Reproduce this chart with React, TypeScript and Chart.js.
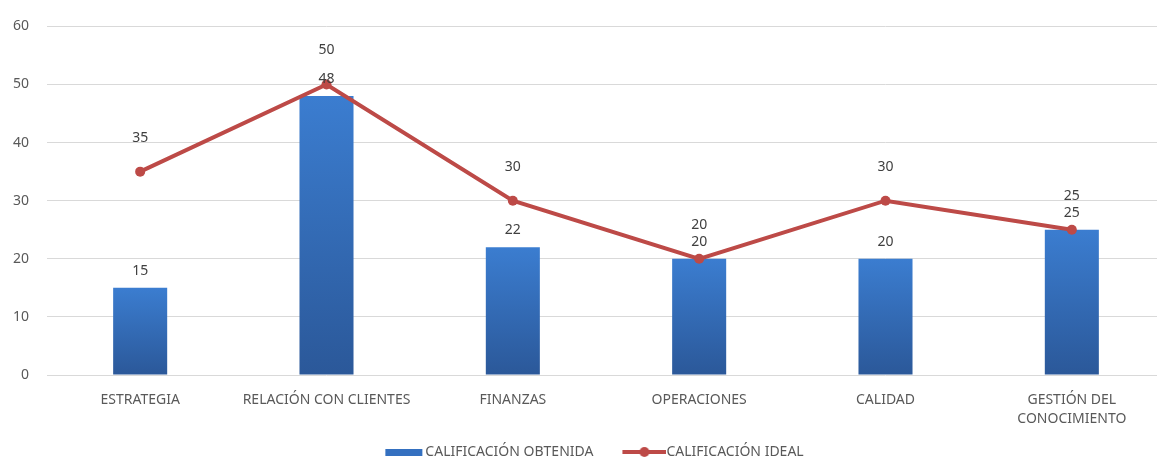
import React, { useEffect, useRef } from "react";
import { Chart, registerables } from "chart.js";

Chart.register(...registerables);

const categories: (string | string[])[] = [
  "ESTRATEGIA",
  "RELACIÓN CON CLIENTES",
  "FINANZAS",
  "OPERACIONES",
  "CALIDAD",
  ["GESTIÓN DEL", "CONOCIMIENTO"],
];
const obtenida = [15, 48, 22, 20, 20, 25];
const ideal = [35, 50, 30, 20, 30, 25];
const yTicks = [0, 10, 20, 30, 40, 50, 60];

const FONT = "'Noto Sans', sans-serif";
const TEXT = "#595959";
const RED = "#bd4a47";
const BLUE_TOP = "#3b7dd0";
const BLUE_BOT = "#2b5899";
const SWATCH_W = 52;

// swatch images: visible part sits at the right of the canvas so it ends at the text
function makeBarSwatch(): HTMLCanvasElement {
  const m = SWATCH_W / 2 - 12.5;
  const c = document.createElement("canvas");
  c.width = Math.round(37 + 2 * m);
  c.height = 7;
  const g = c.getContext("2d")!;
  g.fillStyle = "#3470c0";
  g.fillRect(c.width - 39, 0, 37, 7);
  return c;
}

function makeLineSwatch(): HTMLCanvasElement {
  const m = SWATCH_W / 2 - 15;
  const c = document.createElement("canvas");
  c.width = Math.round(44 + 2 * m);
  c.height = 10;
  const g = c.getContext("2d")!;
  const x0 = c.width - 44;
  g.strokeStyle = RED;
  g.lineWidth = 4;
  g.beginPath();
  g.moveTo(x0, 5);
  g.lineTo(x0 + 44, 5);
  g.stroke();
  g.fillStyle = RED;
  g.beginPath();
  g.arc(x0 + 22, 5, 5, 0, Math.PI * 2);
  g.fill();
  return c;
}

const labelsPlugin = {
  id: "valueLabels",
  afterDatasetsDraw(chart: any) {
    const ctx = chart.ctx;
    ctx.save();
    ctx.font = `14px ${FONT}`;
    ctx.fillStyle = "#404040";
    ctx.textAlign = "center";
    ctx.textBaseline = "middle";
    chart.data.datasets.forEach((ds: any, di: number) => {
      const meta = chart.getDatasetMeta(di);
      const off = ds.type === "bar" ? 17 : 34;
      meta.data.forEach((el: any, i: number) => {
        ctx.fillText(String(ds.data[i]), el.x, el.y - off);
      });
    });
    ctx.restore();
  },
};

export default function App() {
  const ref = useRef<HTMLCanvasElement>(null);

  useEffect(() => {
    if (!ref.current) return;
    const barSwatch = makeBarSwatch();
    const lineSwatch = makeLineSwatch();
    const chart = new Chart(ref.current, {
      type: "bar",
      data: {
        labels: categories,
        datasets: [
          {
            type: "line",
            label: "CALIFICACIÓN IDEAL",
            data: ideal,
            borderColor: RED,
            backgroundColor: RED,
            borderWidth: 4,
            pointRadius: 5,
            pointBackgroundColor: RED,
            pointBorderColor: RED,
            pointBorderWidth: 0,
            tension: 0,
            order: 0,
          } as any,
          {
            type: "bar",
            label: "CALIFICACIÓN OBTENIDA",
            data: obtenida,
            barPercentage: 0.29,
            categoryPercentage: 1,
            backgroundColor: (c: any) => {
              const ch = c.chart;
              if (!ch.chartArea || c.raw === undefined) return BLUE_TOP;
              const ys = ch.scales.y;
              const top = ys.getPixelForValue(c.raw);
              const bot = ys.getPixelForValue(0);
              const g = ch.ctx.createLinearGradient(0, top, 0, bot);
              g.addColorStop(0, BLUE_TOP);
              g.addColorStop(1, BLUE_BOT);
              return g;
            },
            order: 1,
          } as any,
        ],
      },
      options: {
        responsive: false,
        animation: false,
        layout: { padding: { top: 24, left: 0, right: 0, bottom: 0 } },
        font: { family: FONT },
        scales: {
          x: {
            grid: { display: false, drawTicks: false },
            border: { display: false },
            ticks: {
              color: TEXT,
              font: { family: FONT, size: 14, lineHeight: 1.4 },
              padding: 15,
              maxRotation: 0,
              autoSkip: false,
            },
            afterFit: (s: any) => {
              s.height = 56;
            },
          },
          y: {
            min: 0,
            max: 60,
            afterBuildTicks: (s: any) => {
              s.ticks = yTicks.map((v) => ({ value: v }));
            },
            grid: { color: "#d9d9d9", lineWidth: 1, drawTicks: false },
            border: { display: false },
            ticks: {
              color: TEXT,
              font: { family: FONT, size: 14 },
              padding: 18,
            },
            afterFit: (s: any) => {
              s.width = 47;
            },
          },
        },
        plugins: {
          title: { display: false },
          tooltip: { enabled: false },
          legend: {
            position: "bottom",
            maxHeight: 30,
            labels: {
              color: TEXT,
              font: { family: FONT, size: 14 },
              usePointStyle: true,
              pointStyleWidth: SWATCH_W,
              padding: 14,
              generateLabels: () => [
                {
                  text: "CALIFICACIÓN OBTENIDA",
                  pointStyle: barSwatch,
                  fillStyle: BLUE_TOP,
                  strokeStyle: BLUE_TOP,
                  lineWidth: 0,
                  hidden: false,
                  datasetIndex: 1,
                  fontColor: TEXT,
                } as any,
                {
                  text: "CALIFICACIÓN IDEAL",
                  pointStyle: lineSwatch,
                  fillStyle: RED,
                  strokeStyle: RED,
                  lineWidth: 0,
                  hidden: false,
                  datasetIndex: 0,
                  fontColor: TEXT,
                } as any,
              ],
            },
          } as any,
        },
      },
      plugins: [labelsPlugin],
    });
    return () => chart.destroy();
  }, []);

  return (
    <div style={{ position: "fixed", left: 0, top: 0, width: 1170, height: 461, background: "#fff" }}>
      <canvas ref={ref} width={1170} height={461} style={{ width: 1170, height: 461 }} />
    </div>
  );
}
